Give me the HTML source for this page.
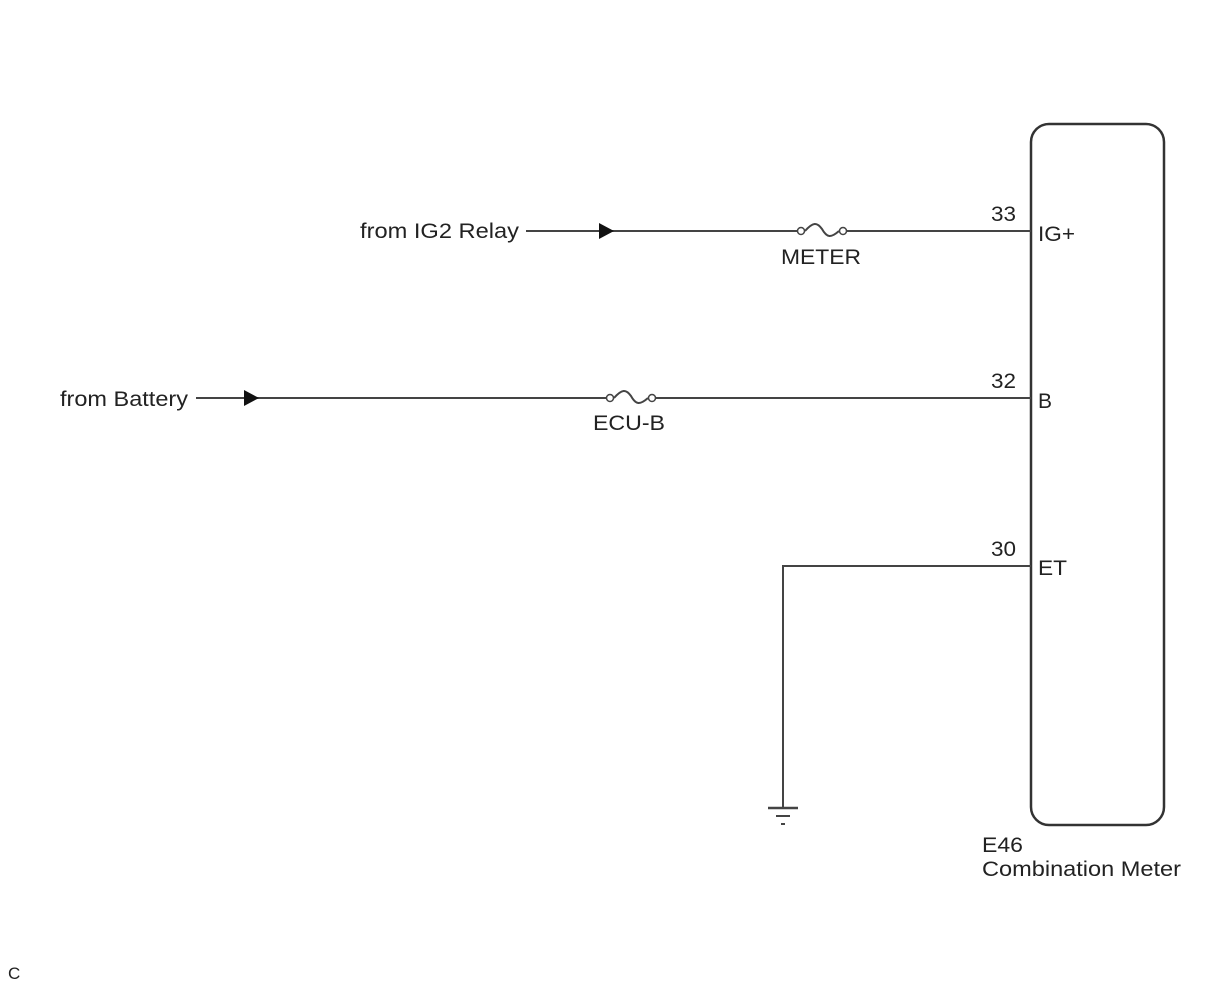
<!DOCTYPE html>
<html><head><style>body{margin:0;background:#fff}svg{display:block}text{font-family:"Liberation Sans",Arial,sans-serif;font-size:21px;fill:#222}</style></head>
<body>
<svg width="1212" height="988" viewBox="0 0 1212 988">
<rect x="1031" y="124" width="133" height="701" rx="18" fill="none" stroke="#333" stroke-width="2.5"/>
<g stroke="#444" stroke-width="2" fill="none">
<line x1="526" y1="231" x2="797" y2="231"/>
<line x1="847" y1="231" x2="1031" y2="231"/>
<line x1="196" y1="398" x2="606" y2="398"/>
<line x1="656" y1="398" x2="1031" y2="398"/>
<polyline points="1031,566 783,566 783,808"/>
<line x1="768" y1="808" x2="798" y2="808" stroke-width="2.5"/>
<line x1="776" y1="816" x2="790" y2="816"/>
<line x1="781" y1="824" x2="785" y2="824"/>
<circle cx="801" cy="231" r="3.5" stroke-width="1.5"/>
<circle cx="843" cy="231" r="3.5" stroke-width="1.5"/>
<path d="M805,231 C813,222 817,222 822,229 C827,238 831,238 839,231" stroke-width="2"/>
<circle cx="610" cy="398" r="3.5" stroke-width="1.5"/>
<circle cx="652" cy="398" r="3.5" stroke-width="1.5"/>
<path d="M614,398 C622,389 626,389 631,396 C636,405 640,405 648,398" stroke-width="2"/>
</g>
<polygon points="599,223 614,231 599,239" fill="#111"/>
<polygon points="244,390 259,398 244,406" fill="#111"/>
<text x="360" y="238" textLength="159" lengthAdjust="spacingAndGlyphs">from IG2 Relay</text>
<text x="60" y="406" textLength="128" lengthAdjust="spacingAndGlyphs">from Battery</text>
<text x="781" y="264" textLength="80" lengthAdjust="spacingAndGlyphs">METER</text>
<text x="593" y="430" textLength="72" lengthAdjust="spacingAndGlyphs">ECU-B</text>
<text x="991" y="221" textLength="25" lengthAdjust="spacingAndGlyphs">33</text>
<text x="991" y="388" textLength="25" lengthAdjust="spacingAndGlyphs">32</text>
<text x="991" y="556" textLength="25" lengthAdjust="spacingAndGlyphs">30</text>
<text x="1038" y="241" textLength="37" lengthAdjust="spacingAndGlyphs">IG+</text>
<text x="1038" y="408">B</text>
<text x="1038" y="575" textLength="29" lengthAdjust="spacingAndGlyphs">ET</text>
<text x="982" y="852" textLength="41" lengthAdjust="spacingAndGlyphs">E46</text>
<text x="982" y="876" textLength="199" lengthAdjust="spacingAndGlyphs">Combination Meter</text>
<text x="8" y="979" style="font-size:17px">C</text>
</svg>
</body></html>
